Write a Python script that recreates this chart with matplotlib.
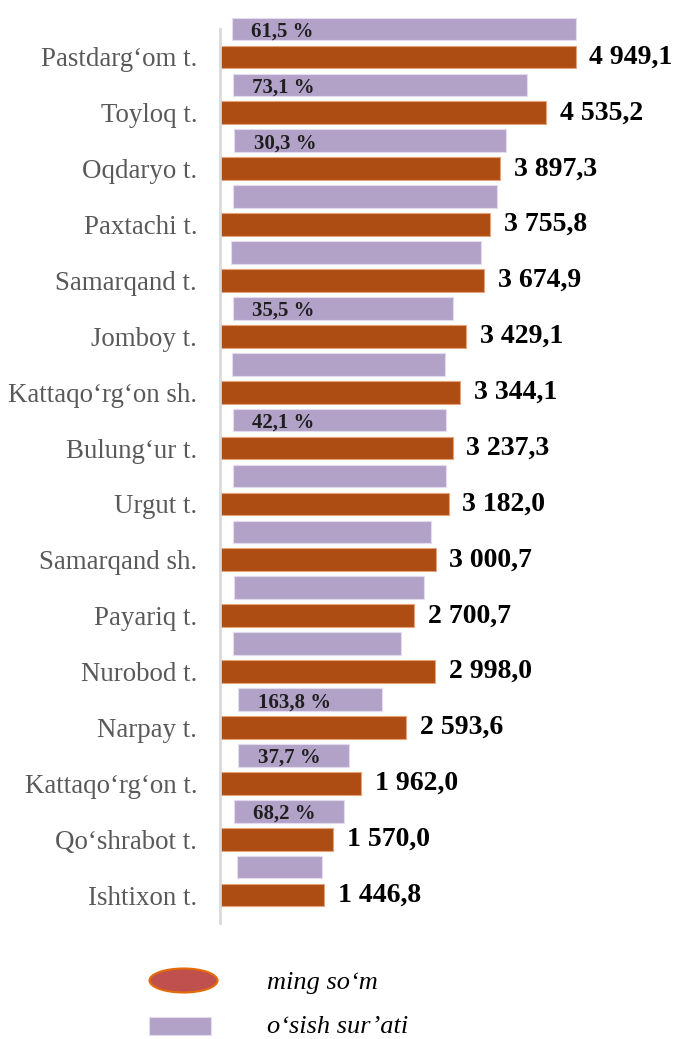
import matplotlib
matplotlib.use("Agg")
import matplotlib.pyplot as plt
from matplotlib.patches import Ellipse, Rectangle

# Districts of Samarqand region, top to bottom
categories = [
    "Pastdarg‘om t.", "Toyloq t.", "Oqdaryo t.", "Paxtachi t.", "Samarqand t.",
    "Jomboy t.", "Kattaqo‘rg‘on sh.", "Bulung‘ur t.", "Urgut t.", "Samarqand sh.",
    "Payariq t.", "Nurobod t.", "Narpay t.", "Kattaqo‘rg‘on t.", "Qo‘shrabot t.",
    "Ishtixon t.",
]
# ming so'm (orange bars)
values = [4949.1, 4535.2, 3897.3, 3755.8, 3674.9, 3429.1, 3344.1, 3237.3,
          3182.0, 3000.7, 2700.7, 2998.0, 2593.6, 1962.0, 1570.0, 1446.8]
# o'sish sur'ati (purple bars) - start and end, same units
growth_start = [163, 181, 200, 177, 158, 177, 163, 181, 181, 181, 200, 177, 255, 255, 195, 233]
growth_end = [4959, 4276, 3987, 3857, 3634, 3239, 3127, 3147, 3147, 2932, 2844, 2519,
              2254, 1789, 1733, 1418]
growth_labels = ["61,5 %", "73,1 %", "30,3 %", "", "", "35,5 %", "", "42,1 %",
                 "", "", "", "", "163,8 %", "37,7 %", "68,2 %", ""]

ORANGE = "#AD4D13"
PURPLE = "#B2A2C8"
SERIF = ["Liberation Serif", "DejaVu Serif"]

W, H = 674, 1039
fig = plt.figure(figsize=(W / 100, H / 100), dpi=100)
ax = fig.add_axes([220 / W, 1 - 923 / H, 431 / W, 894 / H])

y_pos = list(range(len(categories)))
y_growth = [y - 0.5 for y in y_pos]
widths = [e - s for s, e in zip(growth_start, growth_end)]

ax.barh(y_growth, widths, left=growth_start, height=0.405, color=PURPLE,
        edgecolor="#E4DCEE", linewidth=0.8, clip_on=False, zorder=2)
ax.barh(y_pos, values, height=0.405, color=ORANGE, edgecolor="#E8A27A",
        linewidth=0.8, zorder=2)

ax.set_xlim(0, 6000)
ax.set_ylim(15.5, -0.5)

# value labels
for y, v in zip(y_pos, values):
    txt = f"{v:,.1f}".replace(",", " ").replace(".", ",")
    ax.annotate(txt, (v, y), xytext=(10, 0), textcoords="offset points",
                ha="left", va="center", fontsize=20, fontweight="bold",
                family=SERIF, color="black", annotation_clip=False)

# growth labels inside purple bars
for y, s, lab in zip(y_growth, growth_start, growth_labels):
    if lab:
        ax.annotate(lab, (s, y), xytext=(14, -5.5), textcoords="offset points",
                    ha="left", va="baseline", fontsize=15, fontweight="bold",
                    family=SERIF, color="#1F1F1F", annotation_clip=False, zorder=3)

ax.set_yticks(y_pos)
ax.set_yticklabels(categories, family=SERIF, fontsize=19.4, color="#595959")
ax.tick_params(axis="y", length=0, pad=16.5)
ax.set_xticks([])
for side in ["top", "right", "bottom"]:
    ax.spines[side].set_visible(False)
ax.spines["left"].set_color("#D9D9D9")
ax.spines["left"].set_linewidth(2)

# legend drawn in pixel coordinates
lax = fig.add_axes([0, 0, 1, 1])
lax.set_xlim(0, W)
lax.set_ylim(H, 0)
lax.axis("off")
lax.patch.set_alpha(0)
lax.add_patch(Ellipse((183.5, 980.5), 68, 24, facecolor="#C0504D",
                      edgecolor="#E36C09", linewidth=1.5))
lax.add_patch(Rectangle((149, 1017), 62, 18, facecolor=PURPLE, edgecolor="#E4DCEE",
                        linewidth=0.8))
lax.text(267, 989, "ming so‘m", family=SERIF, style="italic", fontsize=19,
         va="baseline", ha="left", color="black")
lax.text(267, 1033, "o‘sish sur’ati", family=SERIF, style="italic", fontsize=19,
         va="baseline", ha="left", color="black")

plt.savefig("out.png", dpi=100)
